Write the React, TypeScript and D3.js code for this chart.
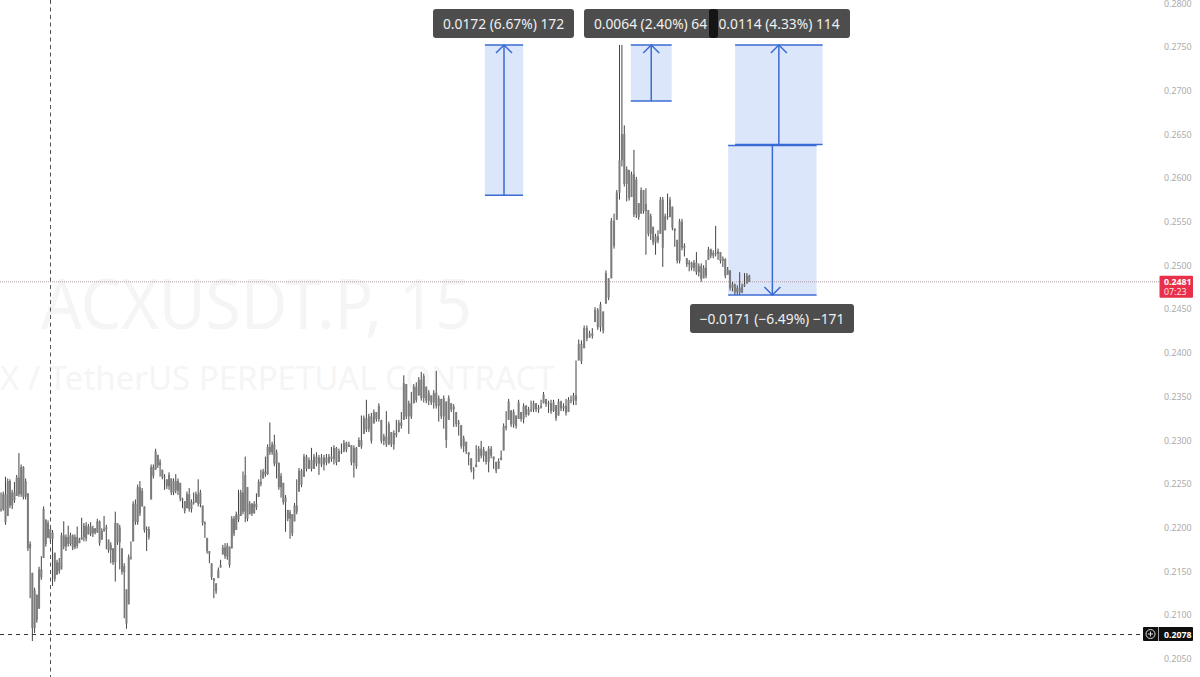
import React, { useEffect, useRef } from "react";
import * as d3 from "d3";

// prices are kept in ticks, 1 tick = 0.0001
const TICK = 0.0001;

const highs = [
  2240,2241,2258,2256,2255,2243,2252,2260,2285,2272,2270,2256,2239,2184,2148,2131,2123,2155,2167,2224,
  2209,2208,2198,2197,2171,2163,2165,2194,2207,2192,2202,2194,2192,2192,2201,2188,2211,2205,2206,2204,
  2206,2202,2199,2210,2208,2199,2213,2203,2186,2183,2176,2218,2205,2203,2176,2159,2129,2169,2184,2230,
  2232,2249,2253,2245,2224,2201,2201,2272,2272,2290,2283,2278,2266,2261,2255,2263,2256,2256,2261,2256,
  2251,2234,2230,2241,2245,2232,2240,2241,2255,2243,2225,2207,2188,2173,2159,2142,2136,2154,2163,2180,
  2182,2182,2178,2213,2213,2218,2243,2243,2264,2281,2246,2230,2228,2230,2239,2255,2266,2267,2281,2295,
  2320,2298,2306,2289,2274,2262,2251,2237,2220,2220,2215,2228,2255,2268,
  2267,2284,2283,2280,2291,2284,2286,2283,2284,2283,2284,2284,2292,2294,2292,2290,2296,2300,2298,2298,
  2294,2294,2292,2303,2328,2328,2346,2330,2331,2335,2332,2342,2323,2307,2333,2321,2309,2311,2323,2323,
  2332,2374,2364,2345,2355,2364,2366,2372,2378,2376,2361,2357,2351,2357,2379,2351,2347,2351,2344,2351,
  2342,2341,2332,2323,2317,2305,2298,2286,2279,2269,2294,2293,2299,2292,2287,2293,2293,2281,2275,2279,
  2288,2319,2333,2347,2334,2335,2328,2346,2332,2342,2340,2338,2345,2345,2342,2340,2346,2355,2347,2345,
  2346,2346,2340,2347,2345,2342,2347,2349,2351,2354,2391,
  2415,2414,2431,2431,2425,2428,2452,2451,2458,2447,2494,2485,2554,2559,2586,2752,2752,2660,2613,2609,
  2607,2632,2601,2571,2589,2586,2588,2563,2559,2544,2536,2540,2578,2578,2559,2582,2578,2567,2542,2529,
  2553,2553,2525,2508,2506,2504,2506,2515,2502,2502,2500,2506,2521,2519,2517,2545,2519,2515,2510,2508,
  2498,2494,2481,2479,2477,2492,2479,2491,2491,2489,
];

const lows = [
  2218,2219,2203,2213,2222,2221,2228,2236,2235,2235,2232,2232,2173,2119,2070,2079,2091,2107,2140,2165,
  2178,2188,2184,2133,2138,2146,2147,2152,2175,2173,2178,2179,2174,2175,2176,2182,2186,2184,2184,2192,
  2190,2189,2192,2194,2179,2186,2195,2175,2171,2159,2157,2138,2180,2152,2146,2096,2084,2112,2163,2184,
  2203,2203,2213,2224,2194,2173,2186,2232,2256,2266,2268,2258,2255,2243,2244,2243,2237,2237,2239,2237,
  2230,2222,2216,2222,2218,2217,2226,2228,2224,2223,2202,2188,2170,2159,2140,2119,2124,2142,2154,2169,
  2164,2163,2154,2176,2190,2197,2206,2213,2215,2206,2207,2215,2213,2216,2220,2235,2247,2256,2258,2260,
  2283,2283,2270,2256,2243,2234,2226,2195,2207,2187,2190,2207,2215,2241,
  2246,2258,2264,2267,2264,2267,2270,2260,2269,2265,2271,2273,2275,2272,2271,2275,2284,2286,2286,2292,
  2271,2257,2267,2292,2290,2307,2309,2309,2296,2319,2321,2321,2296,2294,2292,2294,2292,2289,2303,2309,
  2313,2323,2324,2307,2324,2342,2343,2351,2345,2343,2342,2340,2340,2336,2336,2321,2324,2313,2291,2323,
  2332,2315,2315,2305,2290,2286,2284,2271,2263,2255,2269,2275,2279,2275,2272,2263,2279,2267,2262,2267,
  2277,2288,2311,2323,2315,2314,2313,2324,2321,2319,2326,2328,2332,2332,2332,2331,2336,2342,2338,2331,
  2330,2332,2322,2328,2333,2333,2328,2332,2342,2340,2340,
  2391,2387,2405,2413,2417,2416,2435,2426,2424,2422,2456,2460,2485,2519,2552,2575,2613,2590,2573,2574,
  2578,2555,2554,2552,2559,2559,2512,2533,2529,2523,2512,2525,2536,2498,2540,2552,2555,2540,2521,2502,
  2502,2517,2510,2498,2493,2494,2493,2489,2487,2481,2485,2485,2506,2508,2508,2510,2506,2502,2498,2485,
  2489,2471,2470,2466,2466,2466,2468,2475,2479,2481,
];

const closes = [
  2221,2238,2206,2253,2225,2240,2231,2257,2238,2269,2235,2253,2176,2181,2085,2128,2094,2152,2143,2221,
  2181,2205,2187,2194,2141,2160,2150,2191,2178,2189,2181,2191,2177,2189,2179,2186,2189,2202,2187,2201,
  2193,2199,2194,2207,2182,2196,2198,2200,2174,2180,2160,2205,2183,2200,2149,2156,2090,2166,2166,2227,
  2206,2246,2216,2242,2197,2198,2189,2269,2259,2287,2271,2275,2258,2258,2247,2260,2240,2253,2242,2253,
  2233,2231,2219,2238,2221,2229,2229,2238,2227,2240,2205,2204,2173,2170,2143,2139,2127,2151,2157,2177,
  2167,2179,2157,2210,2193,2215,2209,2240,2218,2260,2210,2227,2216,2227,2223,2252,2250,2264,2261,2292,
  2286,2295,2273,2286,2246,2259,2229,2234,2210,2217,2193,2225,2218,2265,
  2249,2281,2267,2277,2267,2281,2273,2280,2272,2280,2274,2281,2278,2291,2274,2287,2287,2297,2289,2295,
  2274,2291,2270,2300,2293,2325,2312,2327,2299,2332,2324,2339,2299,2304,2295,2318,2295,2308,2306,2320,
  2316,2365,2327,2342,2327,2361,2346,2369,2348,2373,2345,2354,2343,2354,2339,2348,2327,2348,2300,2348,
  2335,2338,2318,2320,2293,2302,2287,2283,2266,2266,2272,2290,2282,2289,2275,2290,2282,2278,2265,2276,
  2280,2316,2314,2344,2318,2332,2316,2343,2324,2339,2329,2335,2335,2342,2335,2337,2339,2352,2341,2342,
  2333,2343,2325,2344,2336,2339,2331,2346,2345,2351,2345,
  2410,2390,2428,2416,2422,2419,2449,2429,2455,2425,2491,2463,2551,2522,2583,2620,2650,2593,2610,2577,
  2604,2558,2598,2555,2586,2562,2570,2536,2556,2526,2533,2528,2575,2520,2556,2555,2575,2543,2539,2505,
  2550,2520,2522,2501,2503,2497,2503,2492,2499,2484,2497,2488,2518,2511,2514,2513,2516,2505,2507,2488,
  2495,2474,2478,2469,2474,2469,2476,2478,2488,2481,
];

const priceTicks = [0.28,0.275,0.27,0.265,0.26,0.255,0.25,0.245,0.24,0.235,0.23,0.225,0.22,0.215,0.21,0.205];

// long/short measure tools
const measureTops = [2752, 2752, 2752, 2637];
const measureBottoms = [2580, 2688, 2638, 2466];
const measureStartBars = [207.5, 264.7, 308.1, 305.2];
const measureEndBars = [222.8, 281.7, 344.5, 342];
const measureUp = [true, true, true, false];
const measureLabels = [
  "0.0172 (6.67%) 172",
  "0.0064 (2.40%) 64",
  "0.0114 (4.33%) 114",
  "\u22120.0171 (\u22126.49%) \u2212171",
];

const lastPrice = 0.2481;
const countdown = "07:23";
const crossPrice = 0.2078;

const width = 1200;
const height = 677;
const font = "'Noto Sans', sans-serif";
const axisSize = 8.8;

const App = () => {
  const ref = useRef<SVGSVGElement>(null);

  useEffect(() => {
    const svg = d3.select(ref.current);
    svg.selectAll("*").remove();

    const y = d3.scaleLinear().domain([0.28, 0.205]).range([3, 658.5]);
    const x = d3.scaleLinear()
      .domain([0, 133, 244, 260, 314])
      .range([1, 299, 576, 619.5, 749.3]);

    // watermark
    svg.append("text")
      .attr("x", 41).attr("y", 329)
      .attr("font-family", font).attr("font-size", 70)
      .attr("textLength", 431).attr("lengthAdjust", "spacingAndGlyphs")
      .attr("fill", "#f5f5f5")
      .text("ACXUSDT.P, 15");
    svg.append("text")
      .attr("x", 0).attr("y", 390)
      .attr("font-family", font).attr("font-size", 33)
      .attr("fill", "#f5f5f5")
      .text("X / TetherUS PERPETUAL CONTRACT");

    // measure fills sit under the candles
    svg.append("g").selectAll("rect")
      .data(measureTops)
      .enter().append("rect")
      .attr("x", (d, i) => x(measureStartBars[i]))
      .attr("y", d => y(d * TICK))
      .attr("width", (d, i) => x(measureEndBars[i]) - x(measureStartBars[i]))
      .attr("height", (d, i) => y(measureBottoms[i] * TICK) - y(d * TICK))
      .attr("fill", "#dce6fb");

    // last price line
    svg.append("line")
      .attr("x1", 0).attr("x2", 1160)
      .attr("y1", y(lastPrice)).attr("y2", y(lastPrice))
      .attr("stroke", "#b09aa0").attr("stroke-width", 1)
      .attr("stroke-dasharray", "1 1");

    // crosshair
    svg.append("line")
      .attr("x1", 50.5).attr("x2", 50.5)
      .attr("y1", 0).attr("y2", height)
      .attr("stroke", "#555").attr("stroke-dasharray", "4 3.5");
    svg.append("line")
      .attr("x1", 0).attr("x2", 1142)
      .attr("y1", y(crossPrice) + 0.5).attr("y2", y(crossPrice) + 0.5)
      .attr("stroke", "#333").attr("stroke-dasharray", "4 4");

    // candles, open is the previous close
    const candles = svg.append("g");
    candles.selectAll("line")
      .data(highs)
      .enter().append("line")
      .attr("x1", (d, i) => x(i)).attr("x2", (d, i) => x(i))
      .attr("y1", d => y(d * TICK))
      .attr("y2", (d, i) => y(lows[i] * TICK))
      .attr("stroke", "#444").attr("stroke-width", 1);
    candles.selectAll("rect")
      .data(closes)
      .enter().append("rect")
      .attr("x", (d, i) => x(i) - 1)
      .attr("width", 2)
      .attr("y", (d, i) => {
        const open = Math.min(highs[i], Math.max(lows[i], i ? closes[i - 1] : d));
        return y(Math.max(open, d) * TICK);
      })
      .attr("height", (d, i) => {
        const open = Math.min(highs[i], Math.max(lows[i], i ? closes[i - 1] : d));
        return Math.max(1, y(Math.min(open, d) * TICK) - y(Math.max(open, d) * TICK));
      })
      .attr("fill", "#7c7c7c");

    // measure lines and arrows
    const blue = "#3a6bd2";
    measureTops.forEach((top, i) => {
      const x0 = x(measureStartBars[i]);
      const x1 = x(measureEndBars[i]);
      const mid = (x0 + x1) / 2;
      const yTop = y(top * TICK);
      const yBottom = y(measureBottoms[i] * TICK);
      const g = svg.append("g").attr("stroke", blue).attr("fill", "none").attr("stroke-width", 1.5);
      g.append("line").attr("x1", x0).attr("x2", x1).attr("y1", yTop).attr("y2", yTop);
      g.append("line").attr("x1", x0).attr("x2", x1).attr("y1", yBottom).attr("y2", yBottom);
      g.append("line").attr("x1", mid).attr("x2", mid).attr("y1", yTop).attr("y2", yBottom);
      const tip = measureUp[i] ? yTop : yBottom;
      const back = measureUp[i] ? tip + 8 : tip - 8;
      g.append("path").attr("d", `M${mid - 8},${back}L${mid},${tip}L${mid + 8},${back}`);
    });

    // measure labels
    const labelBoxes = [
      { left: 433, right: 574, top: 9, bottom: 38, text: 503.5 },
      { left: 584, right: 718, top: 9, bottom: 38, text: 650.5 },
      { left: 708, right: 850, top: 9, bottom: 38, text: 779 },
      { left: 690, right: 854, top: 304, bottom: 333, text: 772 },
    ];
    const labels = svg.append("g");
    labelBoxes.forEach(b => {
      labels.append("rect")
        .attr("x", b.left).attr("y", b.top)
        .attr("width", b.right - b.left).attr("height", b.bottom - b.top)
        .attr("rx", 3).attr("fill", "#4d4d4d");
    });
    labels.append("rect")
      .attr("x", 709).attr("y", 9).attr("width", 9).attr("height", 29)
      .attr("rx", 3).attr("fill", "#151515");
    labelBoxes.forEach((b, i) => {
      labels.append("text")
        .attr("x", b.text)
        .attr("y", (b.top + b.bottom) / 2 + 5)
        .attr("text-anchor", "middle")
        .attr("font-family", font).attr("font-size", 13.8)
        .attr("fill", "#f0f0f0")
        .text(measureLabels[i]);
    });

    // price axis
    svg.append("g").selectAll("text")
      .data(priceTicks)
      .enter().append("text")
      .attr("x", 1164)
      .attr("y", d => y(d) + 3.5)
      .attr("font-family", font).attr("font-size", axisSize)
      .attr("fill", "#ababab")
      .text(d => d3.format(".4f")(d));

    // last price tag
    svg.append("rect")
      .attr("x", 1159.5).attr("y", y(lastPrice) - 6)
      .attr("width", 33.5).attr("height", 22)
      .attr("rx", 1).attr("fill", "#e8304a");
    svg.append("text")
      .attr("x", 1164).attr("y", y(lastPrice) + 3.5)
      .attr("font-family", font).attr("font-size", axisSize).attr("font-weight", 700)
      .attr("fill", "#fff")
      .text(d3.format(".4f")(lastPrice));
    svg.append("text")
      .attr("x", 1164).attr("y", y(lastPrice) + 13)
      .attr("font-family", font).attr("font-size", axisSize)
      .attr("fill", "#fbe3e6")
      .text(countdown);

    // crosshair price tag
    const cy = y(crossPrice);
    svg.append("rect")
      .attr("x", 1143).attr("y", cy - 7)
      .attr("width", 50).attr("height", 14)
      .attr("rx", 1).attr("fill", "#0f0f0f");
    svg.append("line")
      .attr("x1", 1158.5).attr("x2", 1158.5)
      .attr("y1", cy - 7).attr("y2", cy + 7)
      .attr("stroke", "#ccc").attr("stroke-width", 0.8);
    svg.append("circle")
      .attr("cx", 1150.5).attr("cy", cy)
      .attr("r", 4.5).attr("fill", "none").attr("stroke", "#ddd");
    svg.append("path")
      .attr("d", `M1148,${cy}H1153M1150.5,${cy - 2.5}V${cy + 2.5}`)
      .attr("stroke", "#ddd").attr("fill", "none");
    svg.append("text")
      .attr("x", 1164).attr("y", cy + 3.5)
      .attr("font-family", font).attr("font-size", axisSize).attr("font-weight", 700)
      .attr("fill", "#fff")
      .text(d3.format(".4f")(crossPrice));
  }, []);

  return (
    <svg
      ref={ref}
      width={width}
      height={height}
      style={{ position: "fixed", left: 0, top: 0, background: "#fff" }}
    />
  );
};

export default App;
